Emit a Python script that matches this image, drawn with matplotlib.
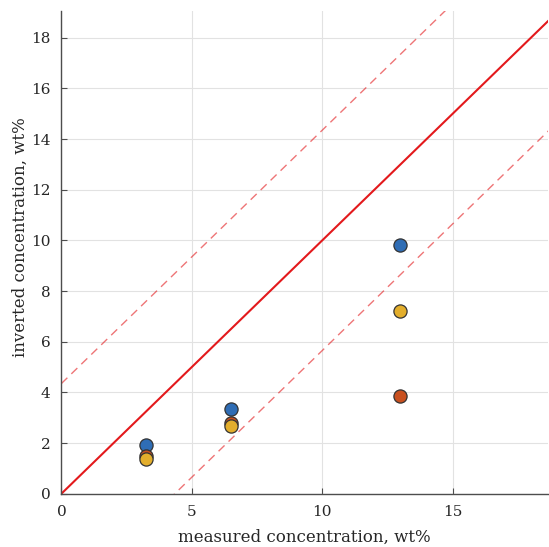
import numpy as np
import matplotlib
matplotlib.use("Agg")
import matplotlib.pyplot as plt

plt.rcParams['font.family'] = ['DejaVu Serif']

# measured concentrations (wt%)
measured = [3.25, 6.5, 13.0]
# inverted concentrations for three inversion variants
inv_blue = [1.92, 3.33, 9.82]
inv_red = [1.47, 2.78, 3.86]
inv_yellow = [1.37, 2.68, 7.20]

band = 4.35  # half-width of the tolerance band around the 1:1 line
xmax, ymax = 18.66, 19.06
xticks = [0, 5, 10, 15]
yticks = [0, 2, 4, 6, 8, 10, 12, 14, 16, 18]

fig = plt.figure(figsize=(5.49, 5.47), dpi=100)
ax = fig.add_axes([0.1118, 0.0974, 0.8864, 0.8825])

xx = np.array([0, 25])
ax.plot(xx, xx, color='#E3191C', lw=1.5, zorder=2)
ax.plot(xx, xx + band, color='#E3191C', lw=1.0, ls=(0, (6, 4)), alpha=0.6, zorder=2)
ax.plot(xx, xx - band, color='#E3191C', lw=1.0, ls=(0, (6, 4)), alpha=0.6, zorder=2)

mk = dict(s=90, edgecolors='#333333', linewidths=0.9, zorder=3)
ax.scatter(measured, inv_blue, color='#2F6DB5', **mk)
ax.scatter(measured, inv_red, color='#C8501F', **mk)
ax.scatter(measured, inv_yellow, color='#E3AE2C', **mk)

ax.set_xlim(0, xmax)
ax.set_ylim(0, ymax)
ax.set_xticks(xticks)
ax.set_yticks(yticks)
ax.grid(True, color='#E2E2E2', lw=0.8, zorder=0)
ax.set_axisbelow(True)

for s in ['top', 'right']:
    ax.spines[s].set_visible(False)
for s in ['left', 'bottom']:
    ax.spines[s].set_color('#4D4D4D')
    ax.spines[s].set_linewidth(1.0)

ax.tick_params(direction='in', length=4, color='#4D4D4D', labelsize=11,
               labelcolor='#262626', pad=8)

ax.set_xlabel('measured concentration, wt%', fontsize=12, color='#262626', labelpad=7)
ax.set_ylabel('inverted concentration, wt%', fontsize=12, color='#262626')
ax.yaxis.set_label_coords(-0.067, 0.532)

fig.savefig('out.png', dpi=100)
